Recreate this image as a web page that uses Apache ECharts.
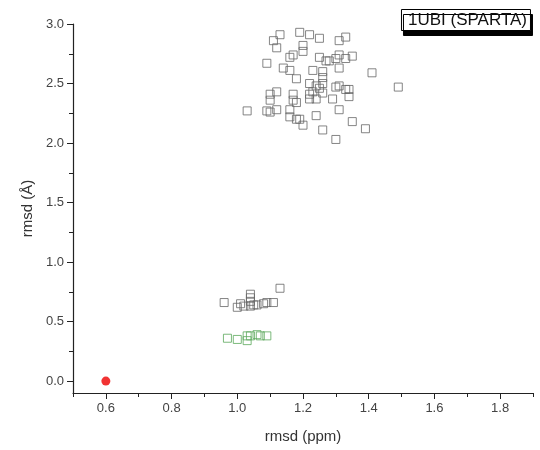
<!DOCTYPE html>
<html>
<head>
<meta charset="utf-8">
<script src="https://cdn.jsdelivr.net/npm/echarts@6/dist/echarts.min.js"></script>
<style>
  html, body { margin: 0; padding: 0; background: #fff; }
  #chart { width: 540px; height: 450px; }
</style>
</head>
<body>
<div id="chart"></div>
<script>
// rmsd (ppm), rmsd (Å) pairs
const upperCluster = [
  [1.13, 2.91], [1.11, 2.86], [1.12, 2.80], [1.19, 2.93], [1.22, 2.91], [1.25, 2.88],
  [1.33, 2.89], [1.31, 2.86], [1.20, 2.82], [1.20, 2.77], [1.17, 2.74], [1.16, 2.72],
  [1.09, 2.67], [1.14, 2.63], [1.16, 2.61], [1.18, 2.54], [1.23, 2.61], [1.25, 2.72],
  [1.27, 2.69], [1.28, 2.69], [1.30, 2.71], [1.31, 2.74], [1.33, 2.71], [1.35, 2.73],
  [1.31, 2.63], [1.26, 2.60], [1.26, 2.55], [1.26, 2.50], [1.22, 2.50], [1.24, 2.48],
  [1.25, 2.46], [1.23, 2.43], [1.22, 2.41], [1.24, 2.37], [1.22, 2.37], [1.26, 2.42],
  [1.29, 2.37], [1.30, 2.47], [1.31, 2.48], [1.33, 2.45], [1.34, 2.45], [1.34, 2.39],
  [1.41, 2.59], [1.49, 2.47], [1.12, 2.43], [1.10, 2.41], [1.10, 2.36], [1.17, 2.41],
  [1.17, 2.36], [1.18, 2.34], [1.03, 2.27], [1.09, 2.27], [1.10, 2.26], [1.12, 2.28],
  [1.16, 2.28], [1.16, 2.22], [1.18, 2.20], [1.19, 2.20], [1.20, 2.15], [1.24, 2.23],
  [1.31, 2.28], [1.35, 2.18], [1.39, 2.12], [1.26, 2.11], [1.30, 2.03]
];
const lowerCluster = [
  [1.13, 0.78], [0.96, 0.66], [1.04, 0.73], [1.04, 0.70], [1.01, 0.65], [1.00, 0.62],
  [1.02, 0.63], [1.04, 0.63], [1.05, 0.64], [1.06, 0.64], [1.08, 0.65], [1.09, 0.66],
  [1.11, 0.66], [1.04, 0.67]
];
const greenCluster = [
  [0.97, 0.36], [1.00, 0.35], [1.03, 0.38], [1.03, 0.34], [1.04, 0.38], [1.06, 0.39],
  [1.07, 0.38], [1.09, 0.38]
];
const refPoint = [[0.6, 0.0]];

const xLabels = [0.6, 0.8, 1.0, 1.2, 1.4, 1.6, 1.8];
const xMinor = [0.5, 0.7, 0.9, 1.1, 1.3, 1.5, 1.7, 1.9];
const yLabels = [0, 0.5, 1.0, 1.5, 2.0, 2.5, 3.0];
const yMinor = [0.25, 0.75, 1.25, 1.75, 2.25, 2.75];

const font = 'Liberation Sans, Arial, sans-serif';
const axisColor = '#222';

const chart = echarts.init(document.getElementById('chart'));

const baseX = {
  type: 'value', min: 0.5, max: 1.9, position: 'bottom',
  splitLine: { show: false }
};
const baseY = {
  type: 'value', min: -0.1, max: 3.0, position: 'left',
  splitLine: { show: false }
};

chart.setOption({
  animation: false,
  title: {
    text: '1UBI (SPARTA)',
    right: 9, top: 9,
    padding: [3, 4, 2, 7],
    backgroundColor: '#fff',
    borderColor: '#000', borderWidth: 1,
    shadowColor: '#000', shadowBlur: 0, shadowOffsetX: 2, shadowOffsetY: 5,
    textStyle: { fontFamily: font, fontSize: 17, fontWeight: 'normal', color: '#111' }
  },
  grid: { left: 73, right: 7, top: 24, bottom: 57 },
  xAxis: [
    Object.assign({}, baseX, {
      name: 'rmsd (ppm)', nameLocation: 'middle', nameGap: 36,
      nameTextStyle: { fontFamily: font, fontSize: 15, color: '#333' },
      axisLine: { show: true, onZero: false, lineStyle: { color: axisColor, width: 1.2 } },
      axisTick: { show: true, inside: false, customValues: xLabels, length: 6, lineStyle: { color: axisColor } },
      axisLabel: { customValues: xLabels, fontFamily: font, fontSize: 13, color: '#444', margin: 9,
        formatter: v => v.toFixed(1) }
    }),
    Object.assign({}, baseX, {
      axisLine: { show: false, onZero: false },
      axisTick: { show: true, inside: false, customValues: xMinor, length: 4, lineStyle: { color: axisColor } },
      axisLabel: { show: false }
    })
  ],
  yAxis: [
    Object.assign({}, baseY, {
      name: 'rmsd (Å)', nameLocation: 'middle', nameGap: 35, nameRotate: 90,
      nameTextStyle: { fontFamily: font, fontSize: 15, color: '#333' },
      axisLine: { show: true, onZero: false, lineStyle: { color: axisColor, width: 1.2 } },
      axisTick: { show: true, inside: false, customValues: yLabels, length: 6, lineStyle: { color: axisColor } },
      axisLabel: { customValues: yLabels, fontFamily: font, fontSize: 13, color: '#444', margin: 9,
        formatter: v => v.toFixed(1) }
    }),
    Object.assign({}, baseY, {
      axisLine: { show: false, onZero: false },
      axisTick: { show: true, inside: false, customValues: yMinor, length: 4, lineStyle: { color: axisColor } },
      axisLabel: { show: false }
    })
  ],
  series: [
    {
      type: 'scatter', data: upperCluster, symbol: 'rect', symbolSize: 8,
      itemStyle: { color: 'rgba(0,0,0,0)', borderColor: '#666', borderWidth: 1 }
    },
    {
      type: 'scatter', data: lowerCluster, symbol: 'rect', symbolSize: 8,
      itemStyle: { color: 'rgba(0,0,0,0)', borderColor: '#666', borderWidth: 1 }
    },
    {
      type: 'scatter', data: greenCluster, symbol: 'rect', symbolSize: 8,
      itemStyle: { color: 'rgba(0,0,0,0)', borderColor: '#5aa85a', borderWidth: 1 }
    },
    {
      type: 'scatter', data: refPoint, symbol: 'circle', symbolSize: 9,
      itemStyle: { color: '#ee0000' }
    }
  ]
});
</script>
</body>
</html>
